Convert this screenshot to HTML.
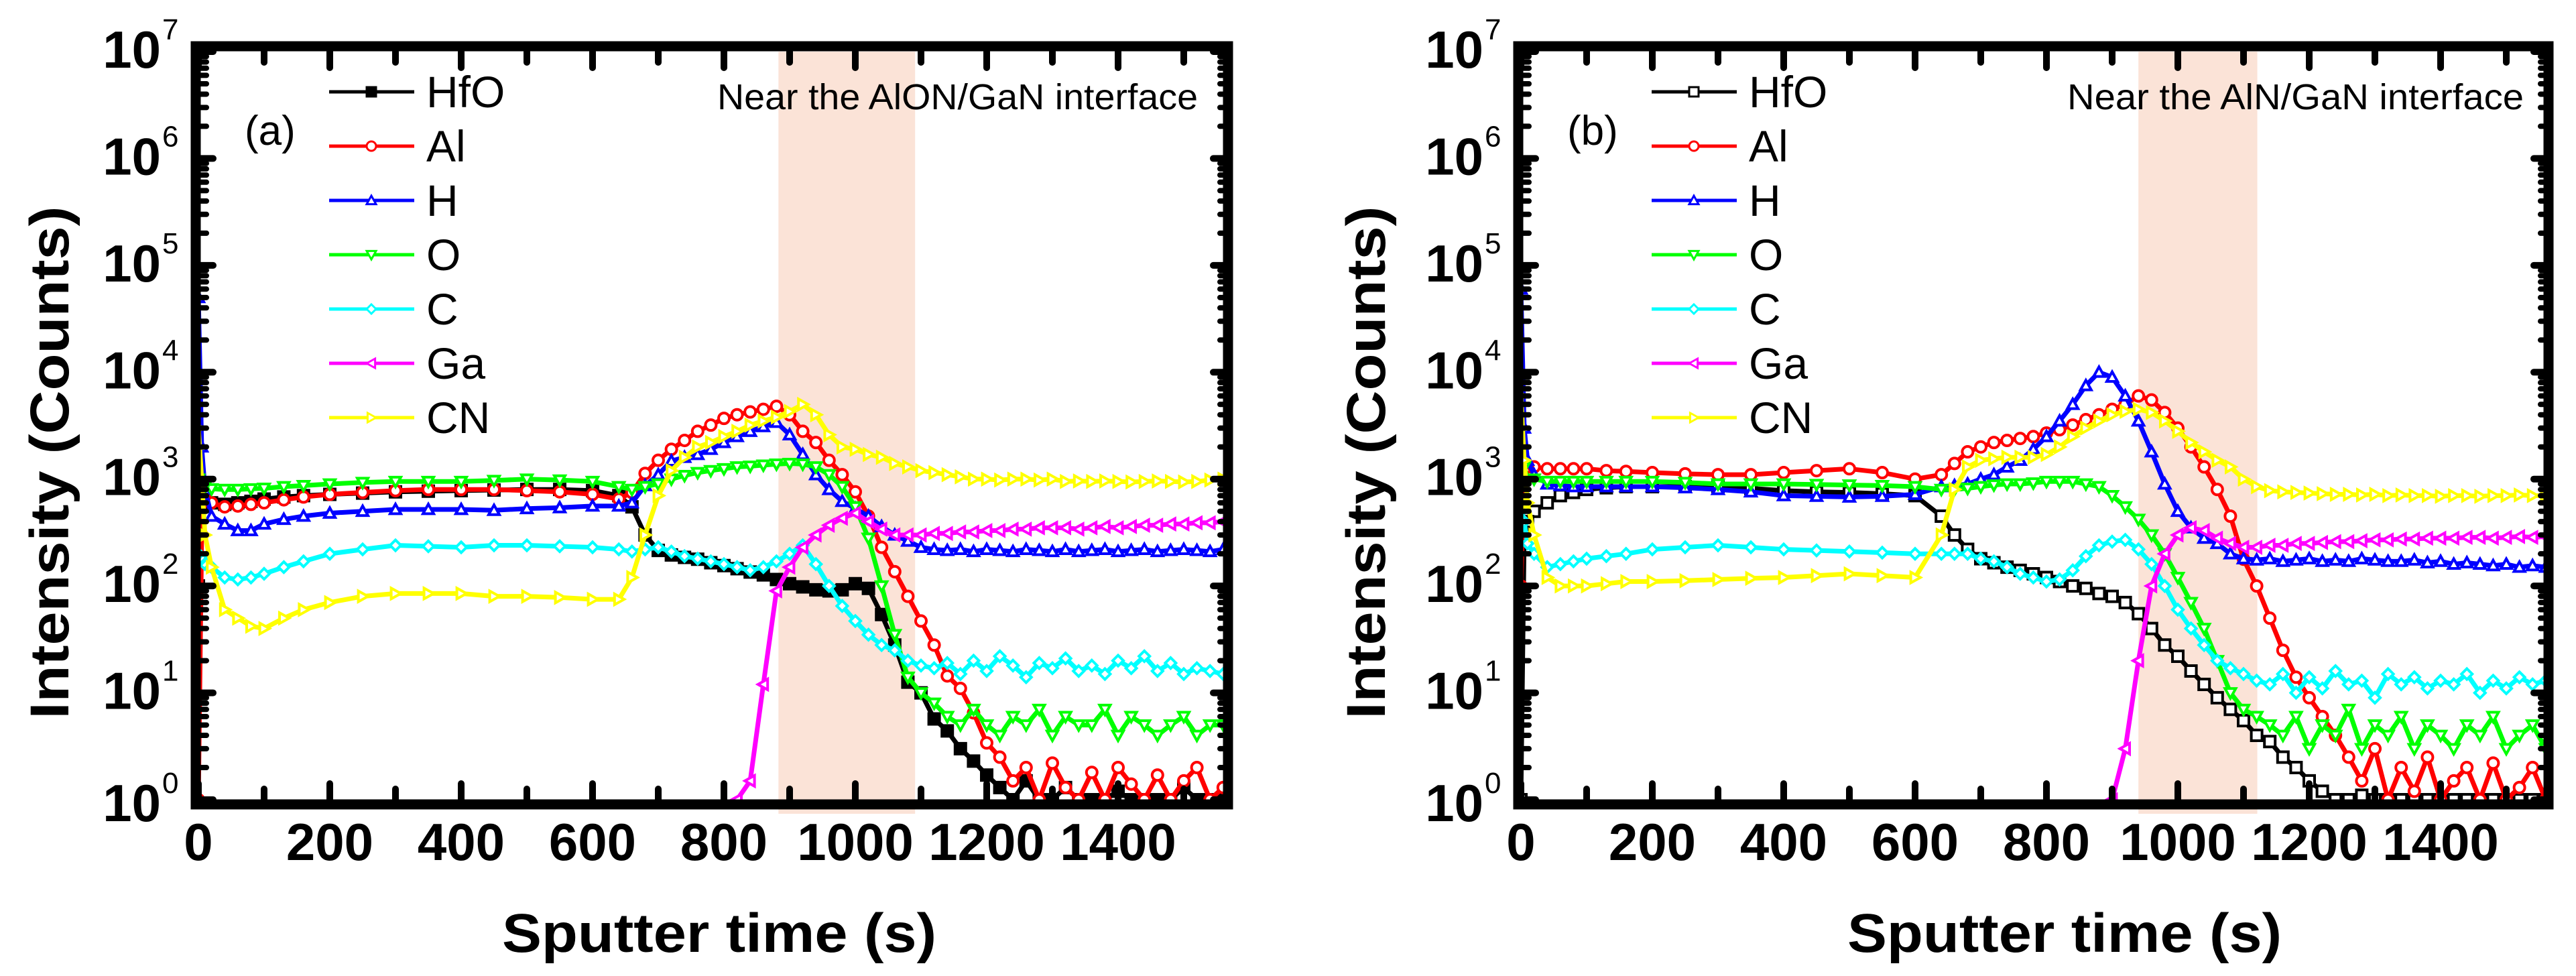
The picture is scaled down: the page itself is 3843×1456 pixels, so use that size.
<!DOCTYPE html>
<html><head><meta charset="utf-8"><style>
html,body{margin:0;padding:0;background:#fff;}
svg{display:block;}
text{font-family:"Liberation Sans",Arial,sans-serif;}
</style></head><body>
<svg id="fig" width="3843" height="1456" viewBox="0 0 3843 1456" xmlns="http://www.w3.org/2000/svg"></svg>
<script>
// ---------- data ----------
const times = [0,5,10,20,40,60,80,100, 130,160,200,250,300,350,400,450,500,550,600, 640,660,680,700,720,740,760,780,800,820,840,860,880,900,920,940,960,980,1000, 1020,1040,1060,1080,1100,1120,1140,1160,1180,1200,1220,1240,1260,1280,1300,1320,1340,1360,1380,1400,1420,1440,1460,1480,1500,1520,1540,1560];
const seriesNames = ["HfO","Al","H","O","C","Ga","CN"];
const xTicks = [0,200,400,600,800,1000,1200,1400];
const yDecades = [0,1,2,3,4,5,6,7];

const aHfO = [100,800,700,600,580,600,620,650, 680,700,720,740,760,770,780,790,800,800,780, 700,550,300,215,195,185,178,165,155,145,135,127,115,105,98,92,90,92,105, 95,54,28,12.6,10,5.7,4.4,3,2.3,1.7,1.3,1,1.5,1,1,1.3,1,1,1,1.2,1,1,1,1,1.3,1,1,1];
const aAl = [1,300,700,600,550,560,580,600, 640,680,720,750,780,800,800,800,780,760,720, 650,750,1130,1500,1900,2300,2800,3200,3700,4000,4250,4500,4800,4000,2800,2200,1500,1100,760, 450,230,136,80,47,28,14.4,11,6.5,3.4,2.5,1.5,2,1,2.2,1.3,1,1.8,1,2,1.4,1,1.7,1,1.5,2,1,1.3];
const aH = [50000,2000,800,450,380,330,330,380, 420,450,480,500,520,520,520,510,530,540,560, 560,600,870,1100,1480,1600,1700,1900,2200,2500,2800,3100,3400,2600,1700,1100,800,620,530, 450,360,300,263,230,220,215,220,210,220,215,210,220,215,210,220,210,215,220,210,215,220,210,215,220,215,210,220];
const aO = [1000,900,850,810,800,800,810,820, 850,870,900,930,950,950,950,970,1000,980,950, 850,800,850,900,1000,1080,1150,1200,1250,1300,1320,1350,1380,1400,1380,1300,1100,850,550, 280,100,35,14,10,8,6,5,7,5,4,6,5,7,4,6,5,5,7,4,6,5,4,5,6,4,5,5];
const aC = [200,180,160,150,120,115,120,130, 150,170,200,220,240,235,230,240,240,235,230, 220,210,220,230,210,190,180,170,160,150,140,150,170,200,240,160,100,65,47, 35,28,25,20,18,17,19,15,20,16,22,18,14,19,17,21,16,18,15,20,17,22,16,19,15,17,16,15];
const aGa = [null,null,null,null,null,null,null,null, null,null,null,null,null,null,null,null,null,null,null, null,null,null,null,null,null,null,null,null,1,1.5,12,90,150,230,300,370,430,480, 400,340,300,300,300,310,310,320,320,330,330,340,340,350,350,350,340,350,360,350,360,370,370,380,380,390,390,400];
const aCN = [3000,1000,300,150,60,50,42,40, 50,60,70,80,85,85,85,80,80,78,75, 75,120,300,700,1200,1600,2000,2200,2500,2800,3200,3500,3800,4300,5000,4000,2600,2000,1900, 1700,1600,1400,1300,1200,1150,1100,1050,1000,1000,980,1000,1000,980,1000,950,960,950,960,950,940,950,960,950,940,950,980,1000];

const bHfO = [1,300,400,500,600,700,750,800, 830,850,850,850,850,820,780,760,750,730,700, 450,300,220,180,165,150,140,130,120,110,100,95,85,80,70,55,40,28,22, 16,12,9,7,5.5,4,3.5,2.5,2,1.5,1.2,1,1,1.1,1,1,1,1,1,1,1,1,1,1,1,1,1,1];
const bAl = [100,1500,1300,1300,1250,1250,1250,1250, 1200,1180,1150,1120,1100,1100,1150,1200,1250,1150,1000, 1100,1400,1800,2000,2200,2300,2400,2500,2700,2900,3200,3600,4000,4500,5000,6000,5500,4200,3000, 2000,1300,800,450,178,100,50,25,14,9,6,4,2.5,1.5,3,1,2,1.2,2.5,1,1.5,2,1,2.2,1,1.3,2,1];
const bH = [60000,3000,1500,1100,900,870,850,850, 850,850,850,830,800,760,700,690,680,690,720, 850,870,900,1000,1100,1300,1500,1900,2500,3500,5000,7500,10000,9000,6000,3500,1800,900,500, 350,280,250,200,180,175,180,170,175,180,170,175,170,180,175,170,170,175,165,170,160,165,160,155,160,150,155,150];
const bO = [900,1300,1000,1000,950,950,950,950, 950,950,950,930,900,900,900,890,880,870,850, 800,800,820,850,880,900,900,920,950,950,950,900,850,700,550,420,300,200,120, 70,40,20,10,7,6,5,4,6,3,5,4,7,3,5,4,6,3,5,4,3,5,4,6,3,4,5,3];
const bC = [500,400,250,200,150,160,170,180, 190,200,220,230,240,230,220,215,210,205,200, 200,200,200,180,170,150,130,120,110,115,140,190,240,260,270,220,160,100,60, 40,28,20,17,15,13,12,15,10,14,11,16,12,13,9,15,12,14,11,13,12,15,10,13,11,14,12,13];
const bGa = [null,null,null,null,null,null,null,null, null,null,null,null,null,null,null,null,null,null,null, null,null,null,null,null,null,null,null,null,null,null,null,null,1,3,20,100,200,300, 350,330,280,250,230,230,240,240,250,250,255,260,260,265,270,270,275,275,280,280,280,285,285,280,285,290,285,290];
const bCN = [6000,1500,600,300,120,100,100,100, 105,110,110,112,115,118,120,125,130,125,120, 300,800,1300,1500,1550,1600,1600,1600,1700,2000,2500,3000,3500,4000,4300,4500,4200,3500,2800, 2200,1800,1500,1300,1000,850,780,760,750,740,730,720,720,710,720,700,710,700,700,690,700,700,690,700,700,710,700,700];

const bandA = [883, 1091];
const bandB = [940, 1121];

// ---------- drawing ----------
const NS = "http://www.w3.org/2000/svg";
const svg = document.getElementById("fig");
function mk(tag, attrs, parent) {
  const e = document.createElementNS(NS, tag);
  for (const k in attrs) e.setAttribute(k, attrs[k]);
  (parent || svg).appendChild(e);
  return e;
}
const colors = ["#000000","#ff0000","#0000ff","#00ff00","#00ffff","#ff00ff","#ffff00"];
const markers = ["square","circle","up","down","diamond","left","right"];

function markerPath(type, x, y, s) {
  switch (type) {
    case "square": return `M${x-s},${y-s}h${2*s}v${2*s}h${-2*s}z`;
    case "circle": return `M${x-s},${y}a${s},${s} 0 1,0 ${2*s},0a${s},${s} 0 1,0 ${-2*s},0z`;
    case "up": return `M${x},${y-s}L${x+s},${y+s*0.8}L${x-s},${y+s*0.8}z`;
    case "down": return `M${x},${y+s}L${x+s},${y-s*0.8}L${x-s},${y-s*0.8}z`;
    case "diamond": return `M${x},${y-s}L${x+s},${y}L${x},${y+s}L${x-s},${y}z`;
    case "left": return `M${x-s},${y}L${x+s*0.8},${y-s}L${x+s*0.8},${y+s}z`;
    case "right": return `M${x+s},${y}L${x-s*0.8},${y-s}L${x-s*0.8},${y+s}z`;
  }
}

function panel(cfg) {
  const g = mk("g", {});
  
  
  const x0 = cfg.x0, xr = cfg.xr, yB = 1193, yT = 77, dec = (yB - yT) / 7;
  const sx = t => x0 + t * 0.98;
  const sy = v => yB - Math.log10(Math.max(v, 1)) * dec;
  const clipId = "clip" + cfg.key;
  const defs = mk("defs", {}, g);
  const cp = mk("clipPath", {id: clipId}, defs);
  mk("rect", {x: x0 - 2, y: yT, width: xr - x0 + 2, height: yB - yT + 6}, cp);

  const band = mk("rect", {x: sx(cfg.band[0]), y: yT, width: sx(cfg.band[1]) - sx(cfg.band[0]), height: 1214 - yT, fill: "#fbe3d7"}, g);
  
  

  const sg = mk("g", {"clip-path": `url(#${clipId})`}, g);
  cfg.series.forEach((vals, si) => {
    const ser = mk("g", {}, sg);
    
    
    const n = Math.min(vals.length, times.length);
    let d = "", pen = false;
    for (let i = 0; i < n; i++) {
      if (vals[i] === null) { pen = false; continue; }
      d += (pen ? "L" : "M") + sx(times[i]).toFixed(1) + "," + sy(vals[i]).toFixed(1);
      pen = true;
    }
    mk("path", {d: d, fill: "none", stroke: colors[si], "stroke-width": 7, "stroke-linejoin": "round"}, ser);
    let md = "";
    for (let i = 0; i < n; i++) {
      if (vals[i] === null) continue;
      md += markerPath(markers[si], sx(times[i]), sy(vals[i]), 8);
    }
    const filled = (si === 0 && cfg.filledHfO);
    mk("path", {d: md, fill: filled ? "#000" : "#fff", stroke: colors[si], "stroke-width": 4}, ser);
  });

  const box = mk("rect", {x: x0 - 4, y: 69, width: xr - x0 + 4, height: 1200 - 69, fill: "none", stroke: "#000", "stroke-width": 15}, g);
  
  

  for (let t = 0; t <= 1500; t += 100) {
    const L = (t % 200 === 0) ? 24 : 16, x = sx(t);
    mk("line", {x1: x, y1: yB, x2: x, y2: yB - L, stroke: "#000", "stroke-width": 10, "stroke-linecap": "round"}, g);
    mk("line", {x1: x, y1: yT, x2: x, y2: yT + L, stroke: "#000", "stroke-width": 10, "stroke-linecap": "round"}, g);
  }
  xTicks.forEach(t => {
    const tl = mk("text", {x: sx(t), y: 1283, "font-size": 78, "font-weight": "bold", "text-anchor": "middle"}, g);
    tl.textContent = String(t);
    
    
  });
  yDecades.forEach(k => {
    const y = yB - k * dec;
    mk("line", {x1: x0, y1: y, x2: x0 + 22, y2: y, stroke: "#000", "stroke-width": 10, "stroke-linecap": "round"}, g);
    mk("line", {x1: xr, y1: y, x2: xr - 22, y2: y, stroke: "#000", "stroke-width": 10, "stroke-linecap": "round"}, g);
    if (k < 7) for (let m = 2; m <= 9; m++) {
      const ym = y - Math.log10(m) * dec;
      mk("line", {x1: x0, y1: ym, x2: x0 + 12, y2: ym, stroke: "#000", "stroke-width": 8, "stroke-linecap": "round"}, g);
      mk("line", {x1: xr, y1: ym, x2: xr - 12, y2: ym, stroke: "#000", "stroke-width": 8, "stroke-linecap": "round"}, g);
    }
    const tl = mk("text", {x: cfg.labelRight, y: y + (k === 0 ? 32 : 24), "font-size": 78, "font-weight": "bold", "text-anchor": "end"}, g);
    tl.textContent = "10";
    
    
    const sp = mk("text", {x: cfg.labelRight + 2, y: y + (k === 0 ? 32 : 24) - 42, "font-size": 44}, g);
    sp.textContent = String(k);
    
    
  });

  const xt = mk("text", {x: cfg.xTitleX, y: 1420, "font-size": 82, "font-weight": "bold", "text-anchor": "middle", textLength: 648, lengthAdjust: "spacingAndGlyphs"}, g);
  xt.textContent = "Sputter time (s)";
  
  
  const yt = mk("text", {x: 0, y: 0, "font-size": 82, "font-weight": "bold", "text-anchor": "middle", textLength: 765, lengthAdjust: "spacingAndGlyphs", transform: `translate(${cfg.yTitleX},690) rotate(-90)`}, g);
  yt.textContent = "Intensity (Counts)";
  
  

  const pl = mk("text", {x: cfg.x0 + 69, y: 216, "font-size": 62}, g);
  pl.textContent = cfg.label;
  
  

  const an = mk("text", {x: cfg.noteX, y: 163, "font-size": 54, textLength: cfg.noteW, lengthAdjust: "spacingAndGlyphs"}, g);
  an.textContent = cfg.note;
  
  

  const lg = mk("g", {}, g);
  
  
  seriesNames.forEach((nm, i) => {
    const y = 137 + i * 81, lx = x0 + 195;
    const en = mk("g", {}, lg);
    
    
    mk("line", {x1: lx, y1: y, x2: lx + 127, y2: y, stroke: colors[i], "stroke-width": 5}, en);
    const filled = (i === 0 && cfg.filledHfO);
    mk("path", {d: markerPath(markers[i], lx + 63, y, 7), fill: filled ? "#000" : "#fff", stroke: colors[i], "stroke-width": 3}, en);
    const t = mk("text", {x: lx + 145, y: y + 23, "font-size": 66}, en);
    t.textContent = nm;
  });
}

panel({key: "a", name: "panel-a", x0: 296, xr: 1832, band: bandA, series: [aHfO, aAl, aH, aO, aC, aGa, aCN],
  filledHfO: true, labelRight: 240, xTitleX: 1073, yTitleX: 102, label: "(a)",
  note: "Near the AlON/GaN interface", noteX: 1070, noteW: 717});
panel({key: "b", name: "panel-b", x0: 2269, xr: 3802, band: bandB, series: [bHfO, bAl, bH, bO, bC, bGa, bCN],
  filledHfO: false, labelRight: 2213, xTitleX: 3080, yTitleX: 2066, label: "(b)",
  note: "Near the AlN/GaN interface", noteX: 3084, noteW: 681});
</script>
</body></html>
